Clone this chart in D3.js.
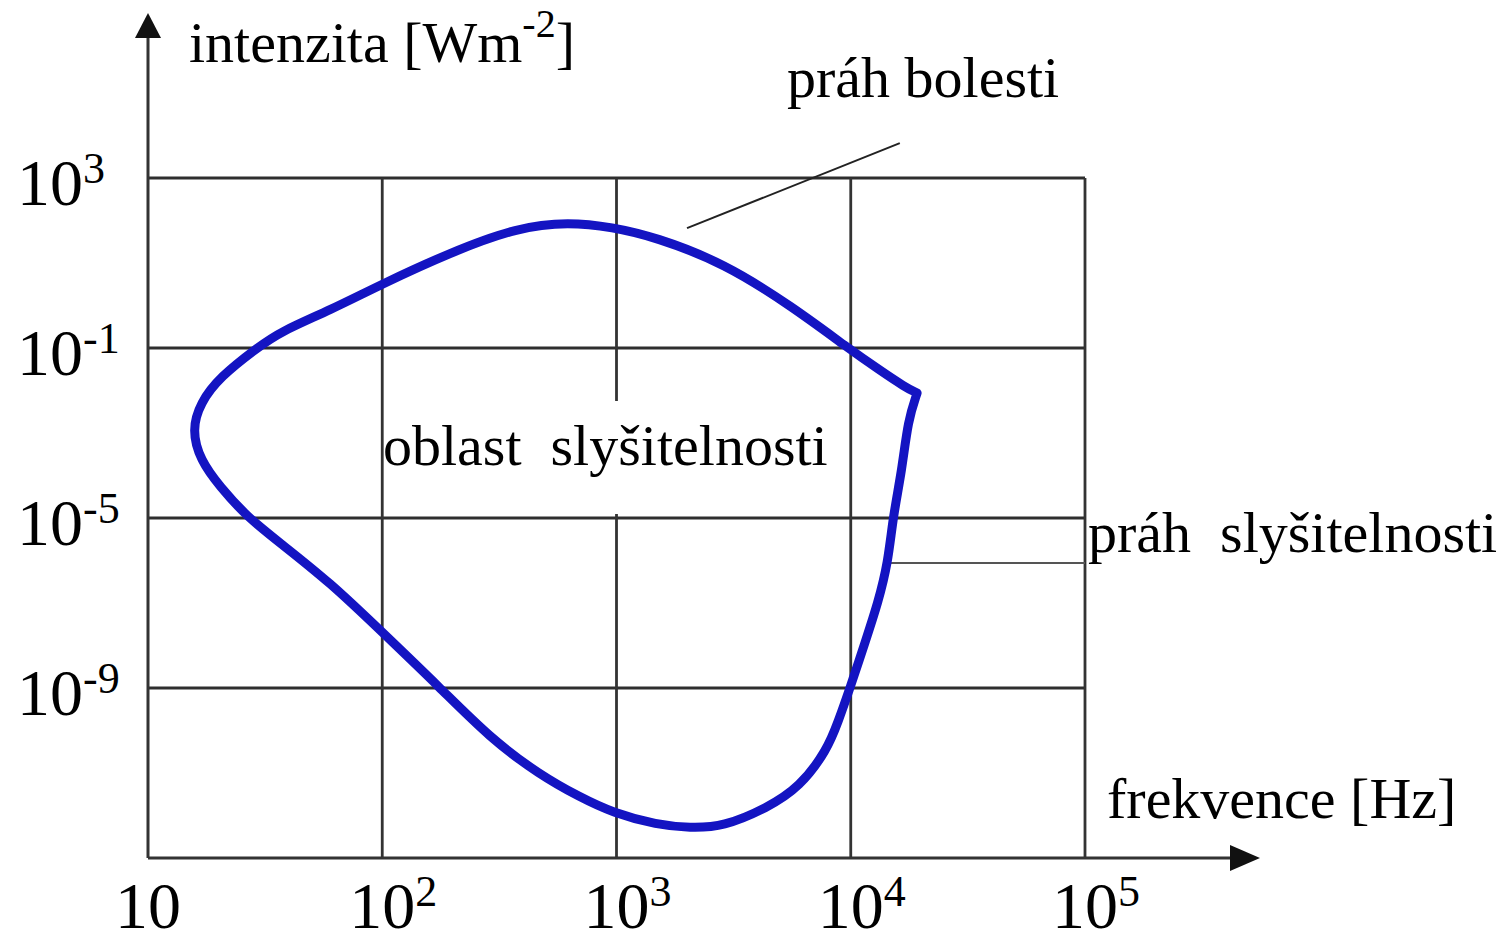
<!DOCTYPE html>
<html>
<head>
<meta charset="utf-8">
<script src="https://cdn.jsdelivr.net/npm/d3@7"></script>
<style>
  body { margin: 0; background: #fff; }
  text { font-family: "Liberation Serif", "Times New Roman", serif; fill: #000; }
</style>
</head>
<body>
<div id="chart"></div>
<script>
// hearing area (closed loop), starts and ends at the upper-right kink
var freqHz = [19200, 17060, 13300, 9730, 5660, 2880, 1460, 957, 627, 380, 193, 99.7, 60, 36.6, 29.2, 20.3, 16.7, 15.4,
  16.7, 20.3, 26.5, 36.6, 60, 97.8, 177, 288, 471, 698, 966, 1490, 2060, 2850, 4390, 6070, 7930, 8830, 9930,
  11600, 13060, 14420, 15140, 16550, 17550, 19200];
var intensity = [8.7e-3, 0.012, 0.03, 0.1, 0.92, 10, 41, 70, 92, 70, 17.2, 3.2, 0.78, 0.24, 0.1, 0.021, 5.1e-3, 1.18e-3,
  2.3e-4, 5.4e-5, 1.06e-5, 2.6e-6, 3e-7, 2.3e-8, 1e-9, 6.7e-11, 9e-12, 2.7e-12, 1.15e-12, 6e-13, 5.1e-13, 5.4e-13, 1.5e-12, 4.7e-12, 3.5e-11, 1.6e-10, 1e-9,
  1.35e-8, 1e-7, 8.7e-7, 1.06e-5, 1.35e-4, 2e-3, 8.7e-3];

var xTicks = [10, 1e2, 1e3, 1e4, 1e5];
var xTickExp = ["", "2", "3", "4", "5"];
var yTicks = [1e3, 1e-1, 1e-5, 1e-9];
var yTickExp = ["3", "-1", "-5", "-9"];

// pointer lines for the two thresholds [freq, intensity]
var painPointer = [[2000, 66], [16200, 6600]];
var hearingPointer = [[14420, 8.7e-7], [1e5, 8.7e-7]];

var width = 1508, height = 942;

var x = d3.scaleLog().domain([10, 1e5]).range([148, 1085]);
var y = d3.scaleLog().domain([1e-13, 1e3]).range([858, 178]);

var svg = d3.select('#chart').append('svg')
  .attr('width', width)
  .attr('height', height);

svg.append('rect').attr('width', width).attr('height', height).attr('fill', '#fff');

// grid
svg.append('g').selectAll('line').data(yTicks)
  .enter().append('line')
    .attr('x1', x(10)).attr('x2', x(1e5))
    .attr('y1', function(d) { return y(d); })
    .attr('y2', function(d) { return y(d); })
    .attr('stroke', '#2e2e2e').attr('stroke-width', 3);

svg.append('g').selectAll('line').data(xTicks.slice(1))
  .enter().append('line')
    .attr('x1', function(d) { return x(d); })
    .attr('x2', function(d) { return x(d); })
    .attr('y1', y(1e-13)).attr('y2', y(1e3))
    .attr('stroke', '#333').attr('stroke-width', 2.8);

// axes with arrows
var x0 = x(10), y0 = y(1e-13);
svg.append('line')
  .attr('x1', x0).attr('x2', 1240).attr('y1', y0).attr('y2', y0)
  .attr('stroke', '#333').attr('stroke-width', 3);
svg.append('path')
  .attr('d', 'M1260,' + y0 + 'L1230,' + (y0 - 13) + 'L1230,' + (y0 + 13) + 'Z')
  .attr('fill', '#111');
svg.append('line')
  .attr('x1', x0).attr('x2', x0).attr('y1', y0).attr('y2', 30)
  .attr('stroke', '#333').attr('stroke-width', 3);
svg.append('path')
  .attr('d', 'M' + x0 + ',13L' + (x0 - 13) + ',38L' + (x0 + 13) + ',38Z')
  .attr('fill', '#111');

// tick labels
var xl = svg.append('g').selectAll('text').data(xTicks)
  .enter().append('text')
    .attr('x', function(d) { return x(d) - 33; })
    .attr('y', 928)
    .style('font-size', '66px');
xl.append('tspan').text('10');
xl.append('tspan')
  .attr('dy', -22)
  .style('font-size', '44px')
  .text(function(d, i) { return xTickExp[i]; });

var yl = svg.append('g').selectAll('text').data(yTicks)
  .enter().append('text')
    .attr('x', 17)
    .attr('y', function(d) { return y(d) + 27; })
    .style('font-size', '66px');
yl.append('tspan').text('10');
yl.append('tspan')
  .attr('dy', -22)
  .style('font-size', '44px')
  .text(function(d, i) { return yTickExp[i]; });

// area label with white background (breaks the 10^3 grid line)
var areaLabel = svg.append('text')
  .attr('x', 383).attr('y', 465)
  .style('font-size', '58px')
  .style('white-space', 'pre')
  .text('oblast  slyšitelnosti');
var bb = areaLabel.node().getBBox();
svg.insert('rect', function() { return areaLabel.node(); })
  .attr('x', bb.x + 12).attr('y', bb.y - 12)
  .attr('width', bb.width - 24).attr('height', bb.height + 48)
  .attr('fill', '#fff');

// pointers
var pl = d3.line()
  .x(function(d) { return x(d[0]); })
  .y(function(d) { return y(d[1]); });
svg.append('path').attr('d', pl(painPointer))
  .attr('fill', 'none').attr('stroke', '#222').attr('stroke-width', 2);
svg.append('path').attr('d', pl(hearingPointer))
  .attr('fill', 'none').attr('stroke', '#555').attr('stroke-width', 2);

// curve
var pts = freqHz.map(function(f, i) { return [f, intensity[i]]; });
var line = d3.line()
  .x(function(d) { return x(d[0]); })
  .y(function(d) { return y(d[1]); })
  .curve(d3.curveBasis);
svg.append('path')
  .attr('d', line(pts))
  .attr('fill', 'none')
  .attr('stroke', '#1414c2')
  .attr('stroke-width', 9)
  .attr('stroke-linejoin', 'round')
  .attr('stroke-linecap', 'round');

// titles
var yt = svg.append('text').attr('x', 189).attr('y', 62).style('font-size', '58px');
yt.append('tspan').text('intenzita [Wm');
yt.append('tspan').attr('dy', -25).style('font-size', '40px').text('-2');
yt.append('tspan').attr('dy', 25).text(']');

svg.append('text').attr('x', 1107).attr('y', 818).style('font-size', '58px')
  .text('frekvence [Hz]');
svg.append('text').attr('x', 787).attr('y', 97).style('font-size', '58px')
  .text('práh bolesti');
svg.append('text').attr('x', 1088).attr('y', 552).style('font-size', '58px')
  .style('white-space', 'pre')
  .text('práh  slyšitelnosti');
</script>
</body>
</html>
